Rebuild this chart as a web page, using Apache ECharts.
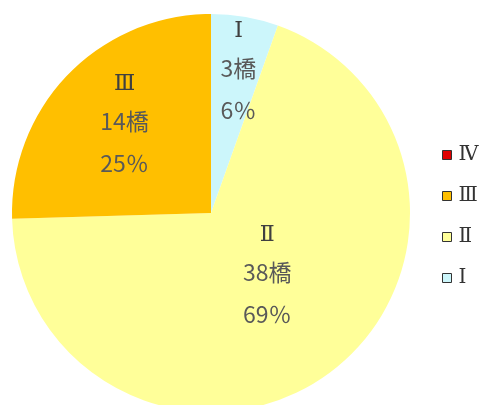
<!DOCTYPE html>
<html><head><meta charset="utf-8">
<script src="https://cdn.jsdelivr.net/npm/echarts@6/dist/echarts.min.js"></script>
<style>html,body{margin:0;padding:0;background:#fff}#c{width:483px;height:405px}</style>
</head><body><div id="c"></div>
<script>
const categories = ['Ⅰ', 'Ⅱ', 'Ⅲ', 'Ⅳ'];
const counts = [3, 38, 14, 0];
const percents = ['6％', '69％', '25％', '0％'];
const colors = ['#ccf6fb', '#ffff99', '#ffbf00', '#e00000'];
const legendOrder = ['Ⅳ', 'Ⅲ', 'Ⅱ', 'Ⅰ'];
const labelShift = [[10, -39], [-4, -19], [-13, -15], [0, 0]];

const chart = echarts.init(document.getElementById('c'));
chart.setOption({
  animation: false,
  legend: {
    orient: 'vertical',
    left: 437,
    top: 140,
    itemWidth: 9,
    itemHeight: 9,
    itemGap: 21,
    icon: 'rect',
    data: legendOrder,
    itemStyle: { borderColor: '#333', borderWidth: 1 },
    textStyle: { fontFamily: "'DejaVu Serif', 'Liberation Serif', serif", fontSize: 20, color: '#333', padding: [0, 0, 0, 2] }
  },
  series: [{
    type: 'pie',
    center: [211, 213],
    radius: 199,
    startAngle: 90,
    clockwise: true,
    label: {
      show: true,
      position: 'inside',
      formatter: p => '{n|' + p.name + '}\n' + p.value + '橋\n' + percents[p.dataIndex],
      fontFamily: "'Noto Sans CJK JP', sans-serif",
      fontSize: 23,
      color: '#595959',
      lineHeight: 42,
      rich: { n: { fontFamily: "'DejaVu Serif', 'Liberation Serif', serif", fontSize: 22, color: '#404040', lineHeight: 32 } }
    },
    labelLayout: p => ({ dx: labelShift[p.dataIndex][0], dy: labelShift[p.dataIndex][1] }),
    labelLine: { show: false },
    emphasis: { disabled: true },
    data: categories.map((c, i) => ({
      name: c,
      value: counts[i],
      itemStyle: { color: colors[i] },
      label: counts[i] === 0 ? { show: false } : undefined
    }))
  }]
});
</script></body></html>
